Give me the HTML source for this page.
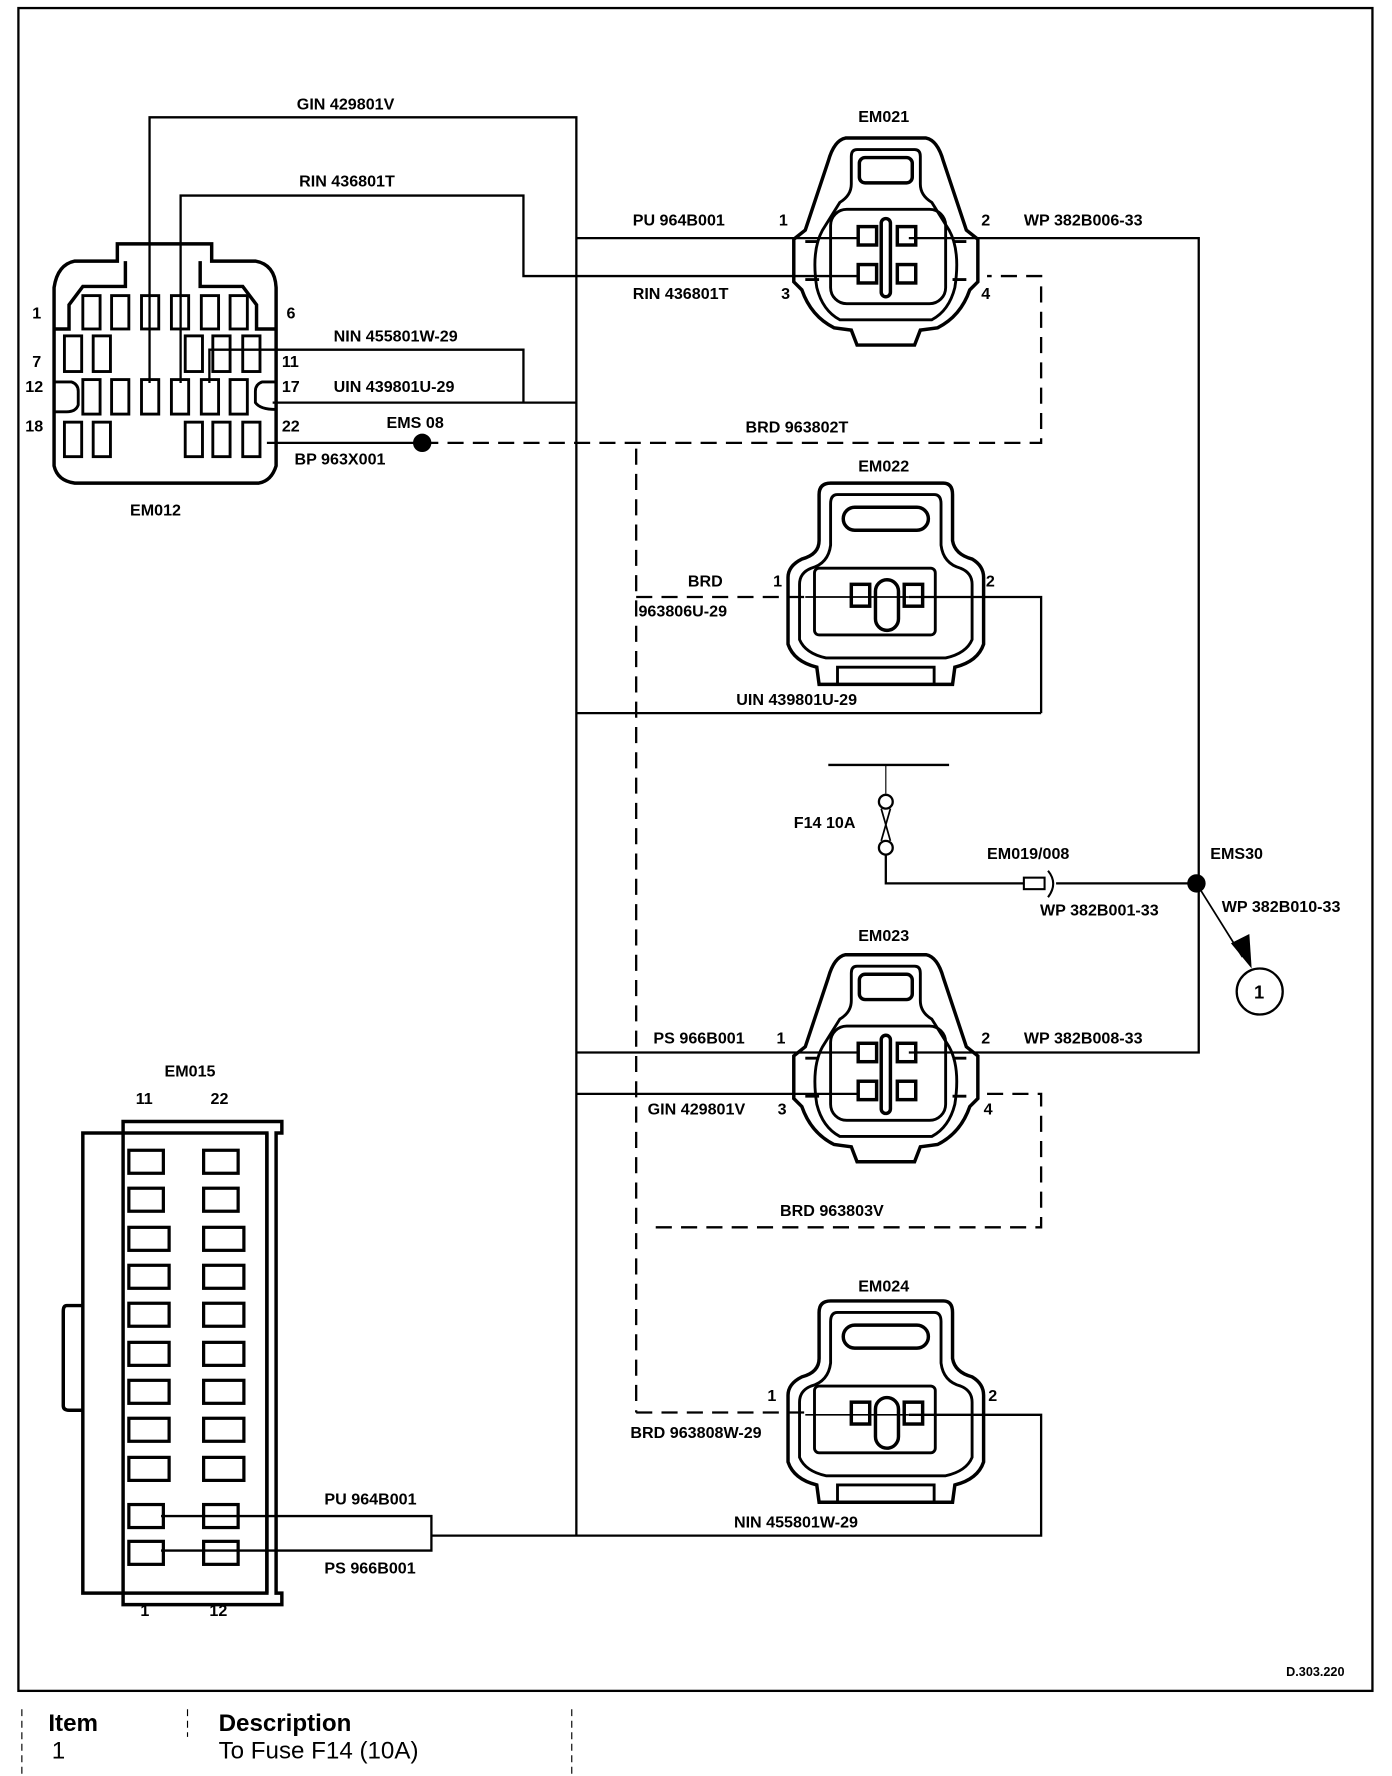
<!DOCTYPE html>
<html><head><meta charset="utf-8"><style>
html,body{margin:0;padding:0;background:#fff}
svg{display:block}
text{font-family:"Liberation Sans",sans-serif;font-weight:bold;font-size:14px;fill:#000}
</style></head><body>
<svg width="1392" height="1776" viewBox="0 0 1210 1544" preserveAspectRatio="none" xmlns="http://www.w3.org/2000/svg">
<rect x="0" y="0" width="1210" height="1544" fill="#fff"/>
<rect x="16" y="7" width="1177" height="1463" fill="none" stroke="#000" stroke-width="2"/>
<g stroke="#000" stroke-width="1" stroke-dasharray="6,4" fill="none">
<line x1="19" y1="1486" x2="19" y2="1550"/><line x1="163" y1="1486" x2="163" y2="1510"/><line x1="497" y1="1486" x2="497" y2="1550"/>
</g>
<text x="42" y="1505" style="font-size:21px">Item</text>
<text x="45" y="1529" style="font-size:21px;font-weight:normal">1</text>
<text x="190" y="1505" style="font-size:21px">Description</text>
<text x="190" y="1529" style="font-size:21px;font-weight:normal">To Fuse F14 (10A)</text>

<g stroke="#000" fill="none" stroke-width="2">
<polyline points="130,333 130,102 501,102 501,1335"/>
<polyline points="157,333 157,170 455,170 455,240 745,240"/>
<line x1="501" y1="207" x2="745" y2="207"/>
<polyline points="182,333 182,304 455,304 455,350"/>
<line x1="237" y1="350" x2="501" y2="350"/>
<line x1="232" y1="385" x2="367" y2="385"/>
<line x1="501" y1="620" x2="905" y2="620"/>
<polyline points="790,519 905,519 905,620"/>
<line x1="700" y1="519" x2="790" y2="519" stroke-width="1.5"/>
<polyline points="790,207 1042,207 1042,915 790,915"/>
<line x1="501" y1="915" x2="745" y2="915"/>
<line x1="501" y1="951" x2="745" y2="951"/>
<polyline points="790,1230 905,1230 905,1335 375,1335"/>
<line x1="700" y1="1230" x2="790" y2="1230" stroke-width="1.5"/>
<polyline points="140,1318 375,1318 375,1348 140,1348"/>
<line x1="720" y1="665" x2="825" y2="665"/>
<line x1="770" y1="665" x2="770" y2="690" stroke-width="1"/>
<circle cx="770" cy="697" r="6"/><circle cx="770" cy="737" r="6"/>
<line x1="766" y1="703" x2="774" y2="731" stroke-width="1.5"/><line x1="774" y1="703" x2="766" y2="731" stroke-width="1.5"/>
<polyline points="770,743 770,768 890,768"/>
<rect x="890" y="763" width="18" height="10" stroke-width="1.8"/>
<path d="M911,757 Q920,768 911,780" stroke-width="1.8"/>
<line x1="918" y1="768" x2="1040" y2="768"/>
<line x1="1040" y1="768" x2="1080" y2="832" stroke-width="1.5"/>
<circle cx="1095" cy="862" r="20"/>
</g>
<polygon points="1070,820 1086,812 1088,842" fill="#000"/>
<circle cx="1040" cy="768" r="8" fill="#000"/>
<circle cx="367" cy="385" r="8" fill="#000"/>
<text x="1090" y="868" style="font-size:16px">1</text>
<g stroke="#000" fill="none" stroke-width="2" stroke-dasharray="14,8">
<polyline points="367,385 905,385 905,240 858,240"/>
<line x1="553" y1="390" x2="553" y2="1228"/>
<line x1="553" y1="519" x2="700" y2="519"/>
<polyline points="858,951 905,951 905,1067 568,1067"/>
<line x1="553" y1="1228" x2="700" y2="1228"/>
</g>

<!-- EM012 -->
<g stroke="#000" fill="none" stroke-width="3">
<path d="M102,212 L184,212 L184,227 L222,227 Q239,230 240,250 L240,405 Q236,418 225,420 L65,420 Q50,418 47,405 L47,250 Q50,230 65,227 L102,227 Z"/>
<path d="M109,227 L109,249 L72,249 L60,265 L60,286 L47,286"/>
<path d="M174,227 L174,249 L211,249 L223,265 L223,286 L240,286"/>
<g stroke-width="2.5">
<rect x="72" y="257" width="15" height="29"/><rect x="97" y="257" width="15" height="29"/><rect x="123" y="257" width="15" height="29"/><rect x="149" y="257" width="15" height="29"/><rect x="175" y="257" width="15" height="29"/><rect x="200" y="257" width="15" height="29"/>
<rect x="56" y="292" width="15" height="31"/><rect x="81" y="292" width="15" height="31"/><rect x="161" y="292" width="15" height="31"/><rect x="185" y="292" width="15" height="31"/><rect x="211" y="292" width="15" height="31"/>
<rect x="72" y="330" width="15" height="30"/><rect x="97" y="330" width="15" height="30"/><rect x="123" y="330" width="15" height="30"/><rect x="149" y="330" width="15" height="30"/><rect x="175" y="330" width="15" height="30"/><rect x="200" y="330" width="15" height="30"/>
<path d="M47,332 L62,332 Q68,334 68,340 L68,352 Q66,358 58,358 L47,358"/>
<path d="M240,332 L228,332 Q222,334 222,340 L222,350 Q226,356 240,356"/>
<rect x="56" y="367" width="15" height="30"/><rect x="81" y="367" width="15" height="30"/><rect x="161" y="367" width="15" height="30"/><rect x="185" y="367" width="15" height="30"/><rect x="211" y="367" width="15" height="30"/>
</g>
</g>
<text x="28" y="277">1</text><text x="249" y="277">6</text>
<text x="28" y="319">7</text><text x="245" y="319">11</text>
<text x="22" y="341">12</text><text x="245" y="341">17</text>
<text x="22" y="375">18</text><text x="245" y="375">22</text>
<text x="113" y="448">EM012</text>

<g id="c4" stroke="#000" fill="none" stroke-width="3">
<path d="M735,120 L805,120 Q815,122 820,140 L840,200 L850,208 L850,245 L843,252 Q835,275 815,285 L800,287 L795,300 L745,300 L740,287 L725,285 Q705,275 697,252 L690,245 L690,208 L700,200 L720,140 Q725,122 735,120 Z"/>
<path d="M745,130 L795,130 Q800,130 800,136 L800,160 Q800,170 810,176 L825,200 Q835,218 830,250 Q825,270 810,278 L730,278 Q715,270 710,250 Q705,218 715,200 L730,176 Q740,170 740,160 L740,136 Q740,130 745,130 Z" stroke-width="2.5"/>
<path d="M700,210 L712,210 M700,243 L712,243 M828,210 L840,210 M828,243 L840,243" stroke-width="2.5"/>
<rect x="747" y="137" width="46" height="22" rx="5"/>
<rect x="722" y="182" width="100" height="82" rx="14" stroke-width="2.5"/>
<rect x="746" y="197" width="16" height="16"/><rect x="780" y="197" width="16" height="16"/>
<rect x="746" y="230" width="16" height="16"/><rect x="780" y="230" width="16" height="16"/>
<rect x="766" y="190" width="8" height="68" rx="4"/>
</g>
<use href="#c4" transform="translate(0,710)"/>

<g id="c2" stroke="#000" fill="none" stroke-width="3">
<path d="M722,420 L820,420 Q828,420 828,430 L828,470 Q830,482 845,486 Q855,492 855,502 L855,560 Q850,575 830,580 L828,595 L712,595 L710,580 Q690,575 685,560 L685,502 Q685,492 697,486 Q712,482 712,470 L712,430 Q712,420 722,420 Z"/>
<path d="M728,430 L812,430 Q818,430 818,438 L818,474 Q820,490 835,494 Q845,498 845,508 L845,556 Q840,568 822,572 L718,572 Q700,568 695,556 L695,508 Q695,498 705,494 Q720,490 722,474 L722,438 Q722,430 728,430 Z" stroke-width="2.5"/>
<rect x="733" y="441" width="74" height="20" rx="10"/>
<rect x="708" y="494" width="105" height="58" rx="4" stroke-width="2.5"/>
<rect x="740" y="508" width="16" height="19"/><rect x="786" y="508" width="16" height="19"/>
<rect x="761" y="504" width="20" height="44" rx="10"/>
<path d="M728,595 L728,580 L812,580 L812,595" stroke-width="2.5"/>
</g>
<use href="#c2" transform="translate(0,711)"/>

<g stroke="#000" fill="none" stroke-width="3">
<path d="M107,985 L107,975 L245,975 L245,985 L240,985 L240,1385 L245,1385 L245,1395 L107,1395 L107,1385"/>
<rect x="72" y="985" width="160" height="400"/>
<line x1="107" y1="985" x2="107" y2="1385"/>
<line x1="232" y1="985" x2="232" y2="1385" />
<path d="M72,1135 L58,1135 Q55,1135 55,1140 L55,1222 Q55,1226 60,1226 L72,1226"/>
<g stroke-width="2.8">
<rect x="112" y="1000" width="30" height="20"/><rect x="177" y="1000" width="30" height="20"/>
<rect x="112" y="1033" width="30" height="20"/><rect x="177" y="1033" width="30" height="20"/>
<rect x="112" y="1067" width="35" height="20"/><rect x="177" y="1067" width="35" height="20"/>
<rect x="112" y="1100" width="35" height="20"/><rect x="177" y="1100" width="35" height="20"/>
<rect x="112" y="1133" width="35" height="20"/><rect x="177" y="1133" width="35" height="20"/>
<rect x="112" y="1167" width="35" height="20"/><rect x="177" y="1167" width="35" height="20"/>
<rect x="112" y="1200" width="35" height="20"/><rect x="177" y="1200" width="35" height="20"/>
<rect x="112" y="1233" width="35" height="20"/><rect x="177" y="1233" width="35" height="20"/>
<rect x="112" y="1267" width="35" height="20"/><rect x="177" y="1267" width="35" height="20"/>
<rect x="112" y="1308" width="30" height="20"/><rect x="177" y="1308" width="30" height="20"/>
<rect x="112" y="1340" width="30" height="20"/><rect x="177" y="1340" width="30" height="20"/>
</g>
</g>

<text x="258" y="95">GIN 429801V</text>
<text x="260" y="162">RIN 436801T</text>
<text x="290" y="297">NIN 455801W-29</text>
<text x="290" y="341">UIN 439801U-29</text>
<text x="336" y="372">EMS 08</text>
<text x="256" y="404">BP 963X001</text>
<text x="746" y="106">EM021</text>
<text x="550" y="196">PU 964B001</text><text x="677" y="196">1</text><text x="853" y="196">2</text><text x="890" y="196">WP 382B006-33</text>
<text x="550" y="260">RIN 436801T</text><text x="679" y="260">3</text><text x="853" y="260">4</text>
<text x="648" y="376">BRD 963802T</text>
<text x="746" y="410">EM022</text>
<text x="598" y="510">BRD</text><text x="672" y="510">1</text><text x="857" y="510">2</text>
<text x="555" y="536">963806U-29</text>
<text x="640" y="613">UIN 439801U-29</text>
<text x="690" y="720">F14 10A</text>
<text x="858" y="747">EM019/008</text>
<text x="1052" y="747">EMS30</text>
<text x="904" y="796">WP 382B001-33</text>
<text x="1062" y="793">WP 382B010-33</text>
<text x="746" y="818">EM023</text>
<text x="568" y="907">PS 966B001</text><text x="675" y="907">1</text><text x="853" y="907">2</text><text x="890" y="907">WP 382B008-33</text>
<text x="563" y="969">GIN 429801V</text><text x="676" y="969">3</text><text x="855" y="969">4</text>
<text x="678" y="1057">BRD 963803V</text>
<text x="746" y="1123">EM024</text>
<text x="667" y="1218">1</text><text x="859" y="1218">2</text>
<text x="548" y="1250">BRD 963808W-29</text>
<text x="638" y="1328">NIN 455801W-29</text>
<text x="143" y="936">EM015</text>
<text x="118" y="960">11</text><text x="183" y="960">22</text>
<text x="282" y="1308">PU 964B001</text>
<text x="282" y="1368">PS 966B001</text>
<text x="122" y="1405">1</text><text x="182" y="1405">12</text>
<text x="1118" y="1457" style="font-size:11px">D.303.220</text>
</svg>
</body></html>
